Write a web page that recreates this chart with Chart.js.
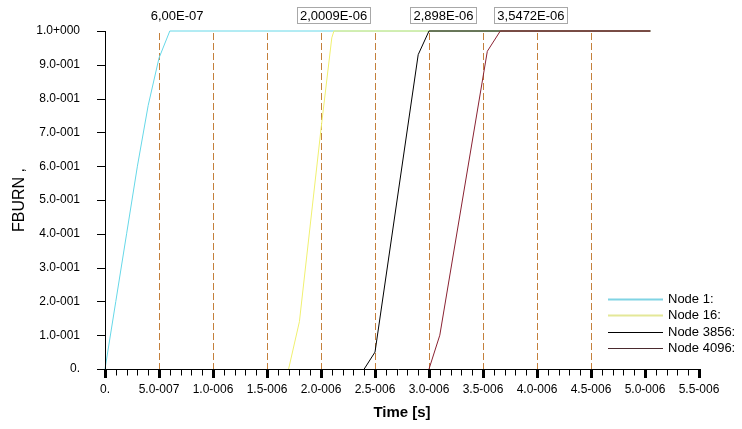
<!DOCTYPE html>
<html>
<head>
<meta charset="utf-8">
<script src="https://cdn.jsdelivr.net/npm/chart.js@4"></script>
<style>
  html, body { margin: 0; background: #fff; }
</style>
</head>
<body>
<canvas id="chart" width="742" height="429"></canvas>
<script>
/* ======================
   DATA
====================== */
const seriesNames = ["Node 1:", "Node 16:", "Node 3856:", "Node 4096:"]
const seriesColors = ["#66d8e8", "#f0f070", "#000000", "#8a2232"]
const legendColors = ["#80d4e4", "#e4e898", "#000000", "#4a2a2e"]

const node1Time = [0, 1e-7, 2e-7, 3e-7, 4e-7, 5e-7, 6e-7, 5.05e-6]
const node1Burn = [0, 0.20, 0.40, 0.60, 0.78, 0.92, 1.0, 1.0]

const node16Time = [1.7e-6, 1.8e-6, 2.0e-6, 2.1e-6, 2.12e-6, 5.05e-6]
const node16Burn = [0, 0.14, 0.71, 0.98, 1.0, 1.0]

const node3856Time = [2.4e-6, 2.5e-6, 2.9e-6, 3.0e-6, 5.05e-6]
const node3856Burn = [0, 0.05, 0.93, 1.0, 1.0]

const node4096Time = [3.0e-6, 3.1e-6, 3.54e-6, 3.66e-6, 5.05e-6]
const node4096Burn = [0, 0.10, 0.94, 1.0, 1.0]

const xTickValues = [0, 5e-7, 1e-6, 1.5e-6, 2e-6, 2.5e-6, 3e-6, 3.5e-6, 4e-6, 4.5e-6, 5e-6, 5.5e-6]
const xTickLabels = ["0.", "5.0-007", "1.0-006", "1.5-006", "2.0-006", "2.5-006",
  "3.0-006", "3.5-006", "4.0-006", "4.5-006", "5.0-006", "5.5-006"]
const xDashedLines = [5e-7, 1e-6, 1.5e-6, 2e-6, 2.5e-6, 3e-6, 3.5e-6, 4e-6, 4.5e-6]

const yTickValues = [0, 0.1, 0.2, 0.3, 0.4, 0.5, 0.6, 0.7, 0.8, 0.9, 1.0]
const yTickLabels = ["0.", "1.0-001", "2.0-001", "3.0-001", "4.0-001", "5.0-001",
  "6.0-001", "7.0-001", "8.0-001", "9.0-001", "1.0+000"]

const noteTexts = ["6,00E-07", "2,0009E-06", "2,898E-06", "3,5472E-06"]
const noteTimes = [0.667e-6, 2.116e-6, 3.134e-6, 3.944e-6]
const noteBoxed = [false, true, true, true]

/* ======================
   HELPERS
====================== */
const pairs = (xs, ys) => xs.map((x, i) => ({ x, y: ys[i] }))
const FONT = "Arial, 'Liberation Sans', sans-serif"
Chart.defaults.font.family = FONT
Chart.defaults.color = "#000"

const allSeries = [
  pairs(node1Time, node1Burn),
  pairs(node16Time, node16Burn),
  pairs(node3856Time, node3856Burn),
  pairs(node4096Time, node4096Burn)
]

/* ---------- dashed grid, axes, ticks, notes, legend ---------- */
const decor = {
  id: "decor",
  beforeDatasetsDraw(chart) {
    const { ctx, chartArea: a, scales: { x } } = chart
    ctx.save()
    ctx.strokeStyle = "#c4803c"
    ctx.lineWidth = 1
    ctx.setLineDash([7, 3])
    xDashedLines.forEach(v => {
      const px = Math.round(x.getPixelForValue(v)) + 0.5
      ctx.beginPath()
      ctx.moveTo(px, a.top + 2)
      ctx.lineTo(px, a.bottom)
      ctx.stroke()
    })
    ctx.restore()
  },
  afterDraw(chart) {
    const { ctx, chartArea: a, scales: { x, y } } = chart
    ctx.save()
    ctx.strokeStyle = "#000"
    ctx.fillStyle = "#000"
    ctx.lineWidth = 1

    // axes
    const ax = Math.round(a.left) + 0.5
    const ay = Math.round(a.bottom) + 0.5
    ctx.beginPath()
    ctx.moveTo(ax, Math.round(a.top))
    ctx.lineTo(ax, ay)
    ctx.moveTo(a.left - 8, ay)
    ctx.lineTo(x.getPixelForValue(5.5e-6) + 1, ay)
    ctx.stroke()

    // y ticks
    yTickValues.forEach(v => {
      const py = Math.round(y.getPixelForValue(v)) + 0.5
      ctx.beginPath()
      ctx.moveTo(a.left - 8, py)
      ctx.lineTo(a.left, py)
      ctx.stroke()
    })

    // x minor ticks every 1e-7
    for (let k = 0; k <= 55; k++) {
      const px = Math.round(x.getPixelForValue(k * 1e-7)) + 0.5
      ctx.beginPath()
      ctx.moveTo(px, ay)
      ctx.lineTo(px, ay + 6)
      ctx.stroke()
    }
    // x major ticks
    xTickValues.forEach(v => {
      const px = Math.round(x.getPixelForValue(v))
      ctx.fillRect(px - 1, Math.round(a.bottom), 3, 9)
    })

    // notes above plot
    ctx.font = "13px " + FONT
    ctx.textAlign = "center"
    ctx.textBaseline = "middle"
    noteTexts.forEach((t, i) => {
      const cx = x.getPixelForValue(noteTimes[i])
      const w = ctx.measureText(t).width + 6
      if (noteBoxed[i]) {
        ctx.fillStyle = "#fff"
        ctx.fillRect(Math.round(cx - w / 2) + 0.5, 7.5, Math.round(w), 16)
        ctx.strokeStyle = "#a8a8a8"
        ctx.strokeRect(Math.round(cx - w / 2) + 0.5, 7.5, Math.round(w), 16)
      }
      ctx.fillStyle = "#000"
      ctx.fillText(t, cx, 16.5)
    })

    // legend
    ctx.textAlign = "left"
    const rowY = [299, 315, 332, 348]
    seriesNames.forEach((name, i) => {
      const py = rowY[i] + 0.5
      ctx.strokeStyle = legendColors[i]
      ctx.lineWidth = i < 2 ? 2 : 1
      ctx.beginPath()
      ctx.moveTo(608, py)
      ctx.lineTo(663, py)
      ctx.stroke()
      ctx.fillStyle = "#000"
      ctx.fillText(name, 668, rowY[i])
    })
    ctx.restore()
  }
}

/* ======================
   CHART
====================== */
new Chart(document.getElementById("chart"), {
  type: "line",
  data: {
    datasets: allSeries.map((data, i) => ({
      label: seriesNames[i],
      data,
      borderColor: seriesColors[i],
      borderWidth: 1,
      pointRadius: 0,
      tension: 0,
      clip: false,
      order: allSeries.length - i
    }))
  },
  options: {
    responsive: false,
    animation: false,
    parsing: false,
    layout: { padding: { top: 31, right: 43, left: 0, bottom: 0 } },
    plugins: { legend: { display: false }, tooltip: { enabled: false } },
    scales: {
      x: {
        type: "linear",
        min: 0,
        max: 5.5e-6,
        grid: { display: false },
        border: { display: false },
        afterFit: s => { s.height = 60 },
        afterBuildTicks: s => { s.ticks = xTickValues.map(value => ({ value })) },
        ticks: {
          autoSkip: false,
          maxRotation: 0,
          padding: 5,
          font: { size: 12 },
          callback: (v, i) => xTickLabels[i]
        },
        title: {
          display: true,
          text: "Time [s]",
          font: { size: 15, weight: "bold" },
          padding: { top: 0, bottom: 7 }
        }
      },
      y: {
        min: 0,
        max: 1,
        grid: { display: false },
        border: { display: false },
        afterFit: s => { s.width = 105 },
        afterBuildTicks: s => { s.ticks = yTickValues.map(value => ({ value })) },
        ticks: {
          padding: 17,
          font: { size: 12 },
          callback: (v, i) => yTickLabels[i]
        },
        title: {
          display: true,
          text: "FBURN ,",
          font: { size: 16 },
          padding: { top: 10, bottom: 0 }
        }
      }
    }
  },
  plugins: [decor]
})
</script>
</body>
</html>
